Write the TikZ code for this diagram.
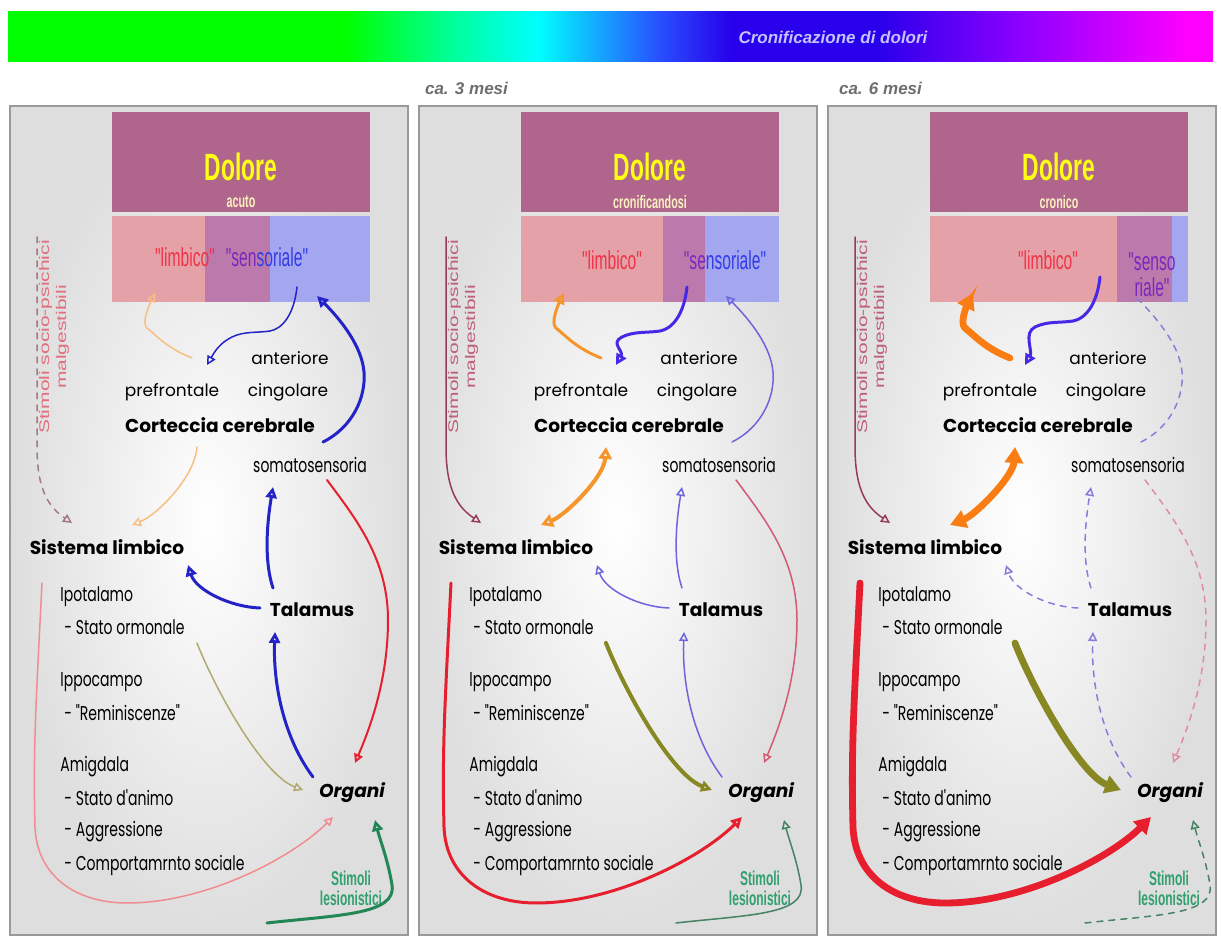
\documentclass[tikz,border=0pt]{standalone}
\usepackage{fontspec}
\setmainfont{Poppins}
\newfontfamily\listfont{Poppins}[FakeStretch=0.7]
\newfontfamily\boxfont{Liberation Sans}[FakeStretch=0.6]
\newfontfamily\headfont{Liberation Sans}
\newfontfamily\sociofont{Liberation Sans}[FakeStretch=1.5]
\usetikzlibrary{arrows.meta,calc}

\definecolor{barGreen}{RGB}{0,255,0}
\definecolor{barMint}{RGB}{0,255,140}
\definecolor{barCyan}{RGB}{0,255,255}
\definecolor{barBlue}{RGB}{40,80,255}
\definecolor{barNavy}{RGB}{40,0,235}
\definecolor{barViolet}{RGB}{140,0,255}
\definecolor{barMagenta}{RGB}{255,0,255}
\definecolor{titleLav}{RGB}{195,195,255}
\definecolor{monthGray}{RGB}{110,110,110}
\definecolor{doloreBg}{RGB}{176,102,140}
\definecolor{stripPink}{RGB}{228,162,168}
\definecolor{stripViolet}{RGB}{188,122,172}
\definecolor{stripBlue}{RGB}{164,166,240}
\definecolor{doloreYellow}{RGB}{255,255,20}
\definecolor{subCream}{RGB}{250,240,190}
\definecolor{limbRed}{RGB}{240,50,70}
\definecolor{sensViolet}{RGB}{120,40,190}
\definecolor{sensBlue}{RGB}{50,60,230}
\definecolor{lightOrange}{RGB}{248,190,130}
\definecolor{midOrange}{RGB}{245,150,45}
\definecolor{deepOrange}{RGB}{250,125,20}
\definecolor{linkBlue}{RGB}{35,35,200}
\definecolor{wiggleBlue}{RGB}{70,40,230}
\definecolor{paleBlue}{RGB}{110,100,220}
\definecolor{dashBlue}{RGB}{135,125,220}
\definecolor{linkRed}{RGB}{230,30,45}
\definecolor{paleRed}{RGB}{240,140,145}
\definecolor{roseRed}{RGB}{210,90,115}
\definecolor{roseDash}{RGB}{225,140,160}
\definecolor{linkOlive}{RGB}{135,135,35}
\definecolor{paleOlive}{RGB}{175,170,110}
\definecolor{lesionGreen}{RGB}{35,135,85}
\definecolor{lesionTeal}{RGB}{70,130,100}
\definecolor{lesionText}{RGB}{50,160,110}
\definecolor{socioGray}{RGB}{165,120,130}
\definecolor{socioDark}{RGB}{150,60,90}
\definecolor{socioRed}{RGB}{225,110,125}
\definecolor{socioRose}{RGB}{190,95,120}

\newcommand{\BoxL}{102}
\newcommand{\BoxR}{360}
\newcommand{\BoxMid}{231}
\newcommand{\PanelTop}{106}
\newcommand{\PanelBottom}{935}

\pgfdeclarehorizontalshading{cronbar}{100bp}{%
  color(0bp)=(barGreen); color(39bp)=(barGreen); color(43bp)=(barMint);
  color(47bp)=(barCyan); color(52bp)=(barBlue); color(55bp)=(barNavy);
  color(61bp)=(barNavy); color(67bp)=(barViolet); color(74bp)=(barMagenta);
  color(100bp)=(barMagenta)}

\tikzset{
  panelbg/.style={draw=black!40, line width=1.2pt, inner color=white, outer color=black!13},
  bigterm/.style={font=\bfseries\fontsize{9.3}{11}\selectfont, inner sep=1pt},
  areaterm/.style={font=\fontsize{8.5}{10}\selectfont, inner sep=1pt},
  narrowterm/.style={font=\listfont\fontsize{10}{11}\selectfont, inner sep=1pt},
  listterm/.style={narrowterm, anchor=west},
  doloretext/.style={font=\boxfont\bfseries\fontsize{19}{19}\selectfont, text=doloreYellow, inner sep=0pt},
  dolsubtext/.style={font=\boxfont\bfseries\fontsize{9}{9}\selectfont, text=subCream, inner sep=0pt},
  striplabel/.style={font=\boxfont\fontsize{13}{13}\selectfont, inner sep=0pt},
  sociotext/.style={font=\sociofont\fontsize{7}{8.5}\selectfont, text=#1, rotate=90, align=center, inner sep=0pt},
  lesiontext/.style={font=\boxfont\bfseries\fontsize{10}{10}\selectfont, text=#1, align=center, inner sep=0pt},
  monthtext/.style={font=\headfont\bfseries\itshape\fontsize{8.5}{10}\selectfont, text=monthGray, anchor=west},
  w1/.style={line width=0.75pt, line cap=round, -{Triangle[open,length=4.5pt,width=4.5pt]}},
  w2/.style={line width=1.5pt, line cap=round, -{Triangle[open,length=5.5pt,width=5.5pt]}},
  w3/.style={line width=3.4pt, line cap=round, -{Triangle[length=8pt,width=9pt]}},
  w2both/.style={line width=2pt, line cap=round, {Triangle[open,length=6pt,width=6.5pt]}-{Triangle[open,length=6pt,width=6.5pt]}},
  w3both/.style={line width=3.4pt, line cap=round, {Triangle[length=8pt,width=9pt]}-{Triangle[length=8pt,width=9pt]}},
  % acuto
  p1 upLimbico/.style={w1, lightOrange},
  p1 downPref/.style={w1, linkBlue},
  p1 upSens/.style={w2, linkBlue},
  p1 cortexLimbic/.style={w1, lightOrange},
  p1 socio/.style={w1, socioGray, dashed},
  p1 talLimbic/.style={w2, linkBlue},
  p1 talSoma/.style={w2, linkBlue},
  p1 organTal/.style={w2, linkBlue},
  p1 somaOrgan/.style={w1, linkRed, line width=1pt},
  p1 statoOrgan/.style={w1, paleOlive},
  p1 limbicOrgan/.style={w1, paleRed},
  p1 lesion/.style={w2, lesionGreen},
  % ca. 3 mesi
  p2 upLimbico/.style={w2, midOrange},
  p2 downPref/.style={w2, wiggleBlue},
  p2 upSens/.style={w1, paleBlue},
  p2 cortexLimbic/.style={w2both, midOrange},
  p2 socio/.style={w1, socioDark},
  p2 talLimbic/.style={w1, paleBlue},
  p2 talSoma/.style={w1, paleBlue},
  p2 organTal/.style={w1, paleBlue},
  p2 somaOrgan/.style={w1, roseRed},
  p2 statoOrgan/.style={w2, linkOlive, line width=2pt},
  p2 limbicOrgan/.style={w2, linkRed},
  p2 lesion/.style={w1, lesionTeal},
  % ca. 6 mesi
  p3 upLimbico/.style={w3, deepOrange},
  p3 downPref/.style={w2, wiggleBlue},
  p3 upSens/.style={w1, dashBlue, dashed, -},
  p3 cortexLimbic/.style={w3both, deepOrange},
  p3 socio/.style={w1, socioDark},
  p3 talLimbic/.style={w1, dashBlue, dashed},
  p3 talSoma/.style={w1, dashBlue, dashed},
  p3 organTal/.style={w1, dashBlue, dashed},
  p3 somaOrgan/.style={w1, roseDash, dashed},
  p3 statoOrgan/.style={w3, linkOlive},
  p3 limbicOrgan/.style={w3, linkRed},
  p3 lesion/.style={w1, lesionTeal, dashed}
}

% #1 prefix, #2 left x, #3 width, #4 subtitle, #5 pink end, #6 violet end,
% #7 socio colour, #8 lesion colour
\newcommand{\DrawPanel}[8]{%
  \begin{scope}[shift={(#2,0)}]
    \shade[panelbg] (0,\PanelTop) rectangle (#3,\PanelBottom);
    \fill[doloreBg] (\BoxL,112) rectangle (\BoxR,212);
    \fill[stripPink] (\BoxL,216) rectangle (#5,302);
    \fill[stripViolet] (#5,216) rectangle (#6,302);
    \fill[stripBlue] (#6,216) rectangle (\BoxR,302);
    \coordinate (#1stripSW) at (\BoxL,302);
    \node[doloretext] (#1dolore) at (\BoxMid,167) {Dolore};
    \node[dolsubtext] (#1sub) at (\BoxMid,202) {#4};
    \node[areaterm] (#1ant) at (280,358) {anteriore};
    \node[areaterm] (#1cing) at (278,392) {cingolare};
    \node[areaterm] (#1pref) at (162,392) {prefrontale};
    \node[bigterm] (#1cortex) at (210,425) {Corteccia cerebrale};
    \node[narrowterm] (#1soma) at (300,465) {somatosensoria};
    \node[bigterm] (#1sist) at (97,547) {Sistema limbico};
    \node[bigterm] (#1tal) at (302,610) {Talamus};
    \node[bigterm, font=\bfseries\itshape\fontsize{9.3}{11}\selectfont] (#1org) at (342,793) {Organi};
    \foreach \lx/\ly/\ltxt [count=\k] in {48/597/Ipotalamo, 52/627/- Stato ormonale,
        48/682/Ippocampo, 52/713/- "Reminiscenze", 48/767/Amigdala,
        52/798/- Stato d'animo, 52/832/- Aggressione, 52/865/- Comportamrnto sociale}
      \node[listterm] (#1list\k) at (\lx,\ly) {\ltxt};
    \node[sociotext=#7] (#1socio) at (44,337) {Stimoli socio-psichici\\malgestibili};
    \node[lesiontext=#8] (#1les) at (341,888) {Stimoli\\lesionistici};
  \end{scope}
}

% #1 prefix, #2 start of the wiggle from the strip corner
\newcommand{\DrawLinks}[2]{%
  \draw[#1 upLimbico] ($(#1pref)+(20,-34)$)
    .. controls +(-25,-10) and +(10,8) .. ($(#1pref)+(-25,-64)$)
    .. controls +(-6,-5) and +(-5,10) .. ($(#1stripSW)+(43,-9)$);
  \draw[#1 downPref] ($(#1stripSW)+(#2)$)
    .. controls +(-3,28) and +(12,-2) .. ($(#1stripSW)+(#2)+(-27,44)$)
    .. controls +(-12,2) and +(12,-6) .. ($(#1stripSW)+(#2)+(-65,50)$)
    .. controls +(-12,6) and +(8,-14) .. ($(#1pref)+(35,-27)$);
  \draw[#1 upSens] ($(#1soma)+(13,-23)$)
    .. controls +(30,-15) and +(2,25) .. ($(#1soma)+(54,-93)$)
    .. controls +(-2,-25) and +(25,25) .. ($(#1stripSW)+(205,-6)$);
  \draw[#1 cortexLimbic] ($(#1cortex)+(-23,22)$)
    .. controls +(-2,30) and +(25,-10) .. ($(#1sist)+(25,-22)$);
  \draw[#1 socio] ($(#1socio)+(-17,-100)$) -- ($(#1socio)+(-17,110)$)
    .. controls +(0,45) and +(-22,-15) .. ($(#1sist)+(-35,-24)$);
  \draw[#1 talLimbic] ($(#1tal)+(-52,-2)$)
    .. controls +(-30,-1) and +(8,25) .. ($(#1sist)+(81,18)$);
  \draw[#1 talSoma] ($(#1tal)+(-39,-22)$)
    .. controls +(-10,-30) and +(-5,30) .. ($(#1soma)+(-37,22)$);
  \draw[#1 organTal] ($(#1org)+(-39,-16)$)
    .. controls +(-30,-40) and +(-2,50) .. ($(#1tal)+(-37,22)$);
  \draw[#1 somaOrgan] ($(#1soma)+(17,15)$)
    .. controls +(30,40) and +(0,-60) .. ($(#1soma)+(78,155)$)
    .. controls +(0,60) and +(15,-35) .. ($(#1org)+(3,-30)$);
  \draw[#1 statoOrgan] ($(#1list2.east)+(10,16)$)
    .. controls +(20,50) and +(-40,-15) .. ($(#1org)+(-49,-3)$);
  \draw[#1 limbicOrgan] ($(#1sist)+(-65,36)$)
    .. controls +(-6,120) and +(-2,-80) .. ($(#1sist)+(-72,280)$)
    .. controls +(2,50) and +(-50,0) .. ($(#1sist)+(20,356)$)
    .. controls +(80,0) and +(-40,40) .. ($(#1org)+(-19,24)$);
  \draw[#1 lesion] ($(#1les)+(-84,35)$)
    .. controls +(70,-8) and +(5,30) .. ($(#1les)+(41,-3)$)
    .. controls +(-4,-25) and +(5,20) .. ($(#1org)+(23,27)$);
}

\begin{document}
\begin{tikzpicture}[x=0.5pt,y=-0.5pt]
  \useasboundingbox (0,0) rectangle (1221,940);
  \fill[white] (0,0) rectangle (1221,940);

  % time bar
  \shade[shading=cronbar] (8,12) rectangle (1213,62);
  \node[font=\headfont\bfseries\itshape\fontsize{8.5}{10}\selectfont, text=titleLav] (barTitle) at (833,37) {Cronificazione di dolori};
  \node[monthtext] (mesiTre) at (418,88) {ca. 3 mesi};
  \node[monthtext] (mesiSei) at (832,88) {ca. 6 mesi};

  \DrawPanel{p1}{10}{398}{acuto}{195}{260}{socioRed}{lesionText}
  \DrawPanel{p2}{419}{398}{cronificandosi}{244}{286}{socioRose}{lesionText}
  \DrawPanel{p3}{828}{388}{cronico}{289}{344}{socioRose}{lesionText}

  \node[striplabel, text=limbRed] (p1limb) at (185,257) {"limbico"};
  \node[striplabel] (p1sens) at (267,257) {\textcolor{sensViolet}{"sen}\textcolor{sensBlue}{soriale"}};
  \node[striplabel, text=limbRed] (p2limb) at (612,260) {"limbico"};
  \node[striplabel] (p2sens) at (725,260) {\textcolor{sensViolet}{"se}\textcolor{sensBlue}{nsoriale"}};
  \node[striplabel, text=limbRed] (p3limb) at (1048,260) {"limbico"};
  \node[striplabel, text=sensViolet, align=center] (p3sens) at (1152,275) {"senso\\riale"};

  \DrawLinks{p1}{185,-15}
  \DrawLinks{p2}{166,-15}
  \DrawLinks{p3}{170,-25}
\end{tikzpicture}
\end{document}
